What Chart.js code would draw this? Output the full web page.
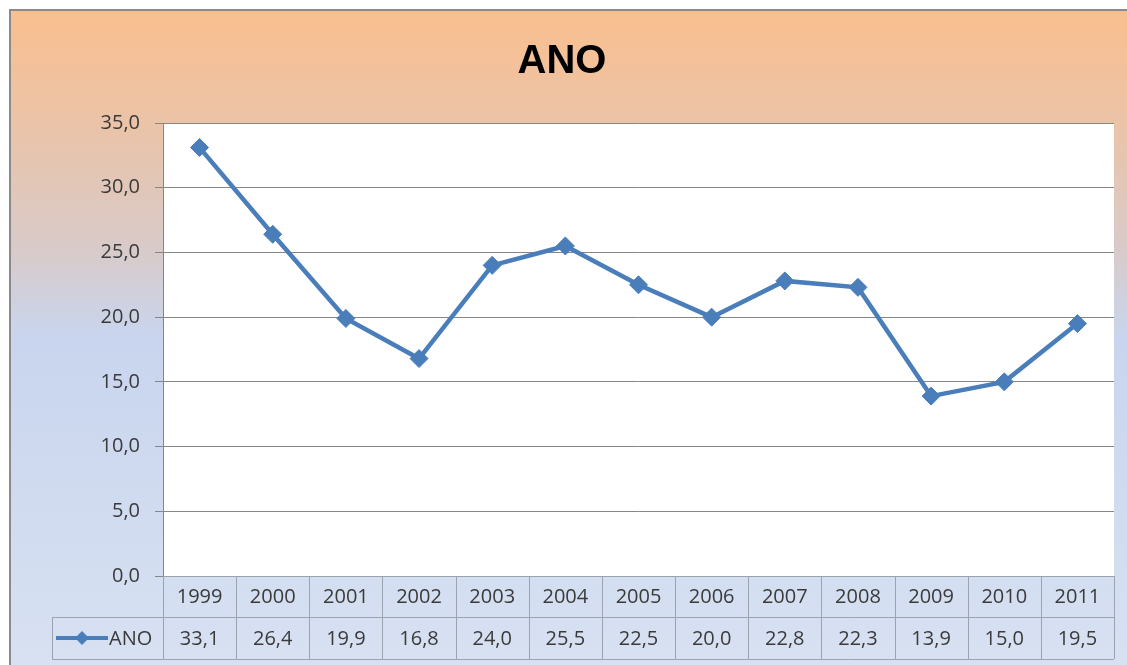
<!DOCTYPE html>
<html>
<head>
<meta charset="utf-8">
<title>ANO</title>
<script src="https://cdn.jsdelivr.net/npm/chart.js"></script>
<style>
	html, body { margin: 0; padding: 0; background: #ffffff; }
	#grafico { display: block; }
</style>
</head>
<body>
<canvas id="grafico" width="1127" height="665"></canvas>
<script>
// dados do gráfico
const anos = ['1999', '2000', '2001', '2002', '2003', '2004', '2005', '2006', '2007', '2008', '2009', '2010', '2011'];
const valoresAno = [33.1, 26.4, 19.9, 16.8, 24.0, 25.5, 22.5, 20.0, 22.8, 22.3, 13.9, 15.0, 19.5];
const nomeSerie = 'ANO';
const eixoY = { min: 0, max: 35, passo: 5 };

const AZUL = '#4A7EBB';
const TEXTO = '#3A3A3A';
const LINHA_TABELA = '#9CA3AE';

function formataBR(v) {
	return v.toFixed(1).replace('.', ',');
}

// fundo degradê e área do gráfico em branco
const fundo = {
	id: 'fundo',
	beforeDraw(chart) {
		const ctx = chart.ctx;
		const a = chart.chartArea;
		ctx.save();
		ctx.fillStyle = '#ffffff';
		ctx.fillRect(0, 0, chart.width, chart.height);

		const g = ctx.createLinearGradient(0, 10, 0, chart.height);
		g.addColorStop(0, '#FABF8E');
		g.addColorStop(0.17, '#EBC3A7');
		g.addColorStop(0.36, '#D9CAC8');
		g.addColorStop(0.5, '#C9D5EE');
		g.addColorStop(1, '#D7E1F2');
		ctx.fillStyle = g;
		ctx.fillRect(10, 10, chart.width - 10, chart.height - 10);

		// borda do quadro
		ctx.strokeStyle = '#8A8A8A';
		ctx.lineWidth = 2;
		ctx.beginPath();
		ctx.moveTo(10, chart.height);
		ctx.lineTo(10, 10);
		ctx.lineTo(chart.width, 10);
		ctx.stroke();

		ctx.fillStyle = '#ffffff';
		ctx.fillRect(a.left, a.top, a.right - a.left, a.bottom - a.top);
		ctx.restore();
	}
};

// tabela de dados abaixo do gráfico
const tabela = {
	id: 'tabela',
	afterDraw(chart) {
		const ctx = chart.ctx;
		const a = chart.chartArea;
		const x = chart.scales.x;
		const n = anos.length;
		const larg = (a.right - a.left) / n;
		const y0 = a.bottom;
		const y1 = y0 + 41;
		const y2 = y1 + 42;
		const esq = 52;

		ctx.save();
		ctx.strokeStyle = LINHA_TABELA;
		ctx.lineWidth = 1;
		ctx.beginPath();
		ctx.moveTo(a.left, y0 + 0.5); ctx.lineTo(a.right, y0 + 0.5);
		ctx.moveTo(esq, y1 + 0.5); ctx.lineTo(a.right, y1 + 0.5);
		ctx.moveTo(esq, y2 + 0.5); ctx.lineTo(a.right, y2 + 0.5);
		ctx.moveTo(esq + 0.5, y1); ctx.lineTo(esq + 0.5, y2);
		for (let i = 0; i <= n; i++) {
			const xi = Math.round(a.left + i * larg) + 0.5;
			ctx.moveTo(xi, y0); ctx.lineTo(xi, y2);
		}
		ctx.stroke();

		// borda esquerda da área do gráfico
		ctx.strokeStyle = '#868686';
		ctx.beginPath();
		ctx.moveTo(a.left + 0.5, a.top); ctx.lineTo(a.left + 0.5, y0);
		ctx.stroke();

		ctx.fillStyle = TEXTO;
		ctx.font = '20px "Open Sans"';
		ctx.textAlign = 'center';
		ctx.textBaseline = 'middle';
		for (let i = 0; i < n; i++) {
			const cx = x.getPixelForValue(i);
			ctx.fillText(anos[i], cx, (y0 + y1) / 2 + 1);
			ctx.fillText(formataBR(valoresAno[i]), cx, (y1 + y2) / 2 + 1);
		}

		// chave da legenda
		const ly = (y1 + y2) / 2;
		ctx.strokeStyle = AZUL;
		ctx.lineWidth = 4;
		ctx.beginPath();
		ctx.moveTo(56, ly); ctx.lineTo(108, ly);
		ctx.stroke();
		ctx.fillStyle = AZUL;
		ctx.beginPath();
		ctx.moveTo(82, ly - 7); ctx.lineTo(89, ly); ctx.lineTo(82, ly + 7); ctx.lineTo(75, ly);
		ctx.closePath();
		ctx.fill();
		ctx.fillStyle = TEXTO;
		ctx.textAlign = 'left';
		ctx.fillText(nomeSerie, 109, ly + 1);
		ctx.restore();
	}
};

const ctx = document.getElementById('grafico').getContext('2d');
const grafico = new Chart(ctx, {
	type: 'line',
	data: {
		labels: anos,
		datasets: [{
			label: nomeSerie,
			data: valoresAno,
			borderColor: AZUL,
			backgroundColor: AZUL,
			borderWidth: 4.5,
			pointStyle: 'rectRot',
			pointRadius: 9,
			pointBackgroundColor: AZUL,
			pointBorderColor: AZUL,
			pointBorderWidth: 1,
			tension: 0,
			fill: false
		}]
	},
	options: {
		responsive: false,
		animation: false,
		layout: {
			padding: { left: 10, right: 13, top: 10, bottom: 89 }
		},
		plugins: {
			legend: { display: false },
			tooltip: { enabled: false },
			title: {
				display: true,
				text: nomeSerie,
				color: '#000000',
				font: { family: '"Liberation Sans", Arial, sans-serif', size: 40, weight: 'bold' },
				padding: { top: 28, bottom: 37 }
			}
		},
		scales: {
			x: {
				display: false,
				offset: true
			},
			y: {
				min: eixoY.min,
				max: eixoY.max,
				afterFit(scale) {
					scale.width = 153;
				},
				ticks: {
					stepSize: eixoY.passo,
					color: TEXTO,
					padding: 15,
					font: { family: '"Open Sans", sans-serif', size: 20 },
					callback: (v) => formataBR(v)
				},
				grid: {
					color: '#868686',
					lineWidth: 1,
					tickLength: 8,
					drawTicks: true
				},
				border: { display: false }
			}
		}
	},
	plugins: [fundo, tabela]
});
</script>
</body>
</html>
